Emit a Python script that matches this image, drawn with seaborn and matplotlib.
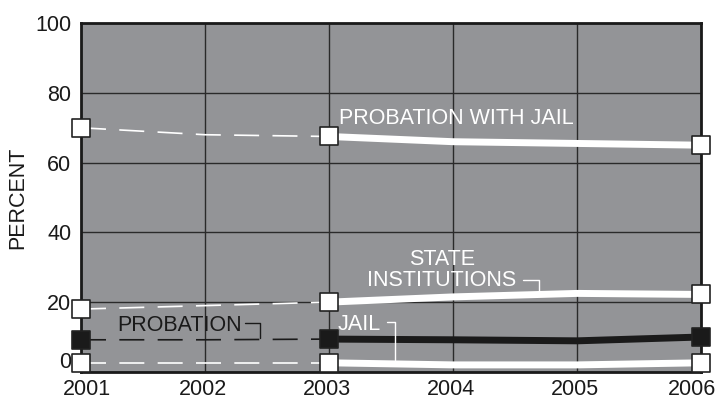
import numpy as np
import pandas as pd
import seaborn as sns
import matplotlib.pyplot as plt
import matplotlib.transforms as mtransforms

# Dane (procent)
years_early = [2001, 2002, 2003]
years_late = [2003, 2004, 2005, 2006]

prob_jail_early = [70, 68, 67.5]
prob_jail_late = [67.5, 66, 65.5, 65]
state_early = [18, 19, 20]
state_late = [20, 21.5, 22.5, 22.2]
probation_early = [9.2, 9.2, 9.4]
probation_late = [9.4, 9.2, 8.9, 10]
jail_early = [2.6, 2.6, 2.6]
jail_late = [2.6, 2.0, 2.0, 2.6]

marker_years = [2001, 2003, 2006]
x_ticks = [2001, 2002, 2003, 2004, 2005, 2006]
y_ticks = [0, 20, 40, 60, 80, 100]

sns.set_theme(style="white")
plt.rcParams['font.family'] = ['Liberation Sans', 'DejaVu Sans']
FS = 15.5
INK = '#1a1a1a'

fig = plt.figure(figsize=(7.2, 3.99), dpi=100)
ax = fig.add_axes([0.1125, 0.068, 0.8615, 0.874])
ax.set_facecolor('#939497')

series = [
    ('PROBATION WITH JAIL', prob_jail_early, prob_jail_late, 'white'),
    ('STATE INSTITUTIONS', state_early, state_late, 'white'),
    ('PROBATION', probation_early, probation_late, INK),
    ('JAIL', jail_early, jail_late, 'white'),
]

for name, early, late, col in series:
    df_e = pd.DataFrame({'year': years_early, 'pct': early})
    df_l = pd.DataFrame({'year': years_late, 'pct': late})
    sns.lineplot(data=df_e, x='year', y='pct', ax=ax, color=col,
                 linewidth=1.2, zorder=3)
    ax.lines[-1].set_dashes((15, 8))
    sns.lineplot(data=df_l, x='year', y='pct', ax=ax, color=col,
                 linewidth=5, zorder=4)
    vals = dict(zip(years_early + years_late, early + late))
    df_m = pd.DataFrame({'year': marker_years,
                         'pct': [vals[y] for y in marker_years]})
    sns.scatterplot(data=df_m, x='year', y='pct', ax=ax, marker='s', s=160,
                    color=col, edgecolor='#222222', linewidth=1.2,
                    zorder=6, clip_on=False)

ax.set_xlim(2001, 2006)
ax.set_ylim(0, 100)
ax.set_xticks(x_ticks)
ax.set_yticks(y_ticks)
ax.set_xticklabels([])
ax.set_yticklabels([str(v) if v else '' for v in y_ticks])
ax.tick_params(axis='both', labelsize=FS, length=0, colors=INK)
ax.tick_params(axis='y', pad=7)
ax.grid(True, color='#2a2a2a', linewidth=1.0)
ax.set_axisbelow(True)
for s in ax.spines.values():
    s.set_color(INK)
    s.set_linewidth(2)
ax.set_xlabel('')
ax.set_ylabel('PERCENT', fontsize=FS, color=INK, labelpad=5)

# "0" sits slightly above the axis line in the original
ytr = mtransforms.blended_transform_factory(ax.transAxes, ax.transData)
ax.text(-0.016, 2.6, '0', transform=ytr, ha='right', va='center',
        fontsize=FS, color=INK)

# x tick labels (the end ones are pulled inwards)
xtr = mtransforms.blended_transform_factory(ax.transData, ax.transAxes)
shifts = {2001: 0.05, 2006: -0.075}
for yr in x_ticks:
    ax.text(yr + shifts.get(yr, -0.02), -0.066, str(yr), transform=xtr,
            ha='center', va='baseline', fontsize=FS, color=INK)

# Etykiety serii
ax.text(2003.08, 71.2, 'PROBATION WITH JAIL', color='white', fontsize=FS, va='baseline')
ax.text(2003.91, 24.6, 'STATE\nINSTITUTIONS', color='white', fontsize=FS,
        ha='center', va='baseline', linespacing=1.0)
ax.plot([2004.56, 2004.69, 2004.69], [26.3, 26.3, 22.9], color='white', lw=1, zorder=5)
ax.text(2003.07, 12.0, 'JAIL', color='white', fontsize=FS, va='baseline')
ax.plot([2003.47, 2003.53, 2003.53], [14.3, 14.3, 3.4], color='white', lw=1, zorder=5)
ax.text(2001.29, 11.7, 'PROBATION', color=INK, fontsize=FS, va='baseline')
ax.plot([2002.32, 2002.44, 2002.44], [14.0, 14.0, 9.7], color=INK, lw=1, zorder=5)

plt.savefig('out.png', dpi=100)
